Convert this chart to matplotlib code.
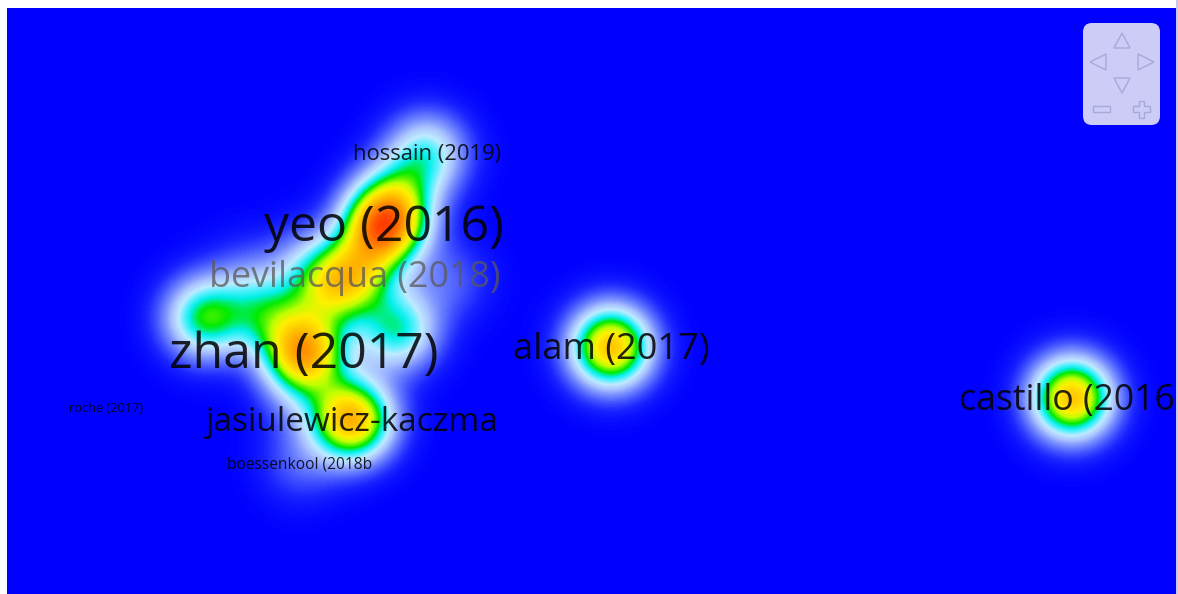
import numpy as np
import matplotlib
matplotlib.use('Agg')
import matplotlib.pyplot as plt
from matplotlib.colors import LinearSegmentedColormap
from matplotlib.patches import FancyBboxPatch, Polygon, Rectangle

# labelled documents: map position (screen units) and density weight
labels = ["hossain (2019)", "yeo (2016)", "bevilacqua (2018)", "zhan (2017)",
          "jasiulewicz-kaczma", "roche (2017)", "boessenkool (2018b",
          "alam (2017)", "castillo (2016)"]
item_x = [427, 384, 355, 304, 352, 106, 300, 611, 1072]
item_y = [153, 225, 275, 352, 420, 408, 463, 347, 398]
item_w = [0.29, 0.76, 0.38, 0.66, 0.66, 0.0, 0.09, 0.64, 0.64]

# documents whose labels are hidden (overlap), still counted in the density
hidden_x = [328, 265, 398, 305, 400, 205, 450, 300, 245]
hidden_y = [288, 312, 330, 262, 192, 318, 280, 395, 275]
hidden_w = [0.30, 0.26, 0.35, 0.10, 0.20, 0.40, 0.09, 0.08, 0.07]

font_sizes = [15.8, 36, 25.8, 36, 24, 9.2, 11.2, 26, 25.7]
label_alpha = [0.85, 0.85, 0.75, 0.85, 0.85, 0.85, 0.85, 0.85, 0.85]

W, H = 1178, 594
fig = plt.figure(figsize=(W / 100, H / 100), dpi=100)
fig.patch.set_facecolor('white')
x0, y0, x1, y1 = 7, 8, 1176, 594
ax = fig.add_axes([x0 / W, 1 - y1 / H, (x1 - x0) / W, (y1 - y0) / H])
ax.set_xlim(x0, x1)
ax.set_ylim(y1, y0)
ax.axis('off')

# kernel density
gx = np.arange(x0, x1) + 0.5
gy = np.arange(y0, y1) + 0.5
XX, YY = np.meshgrid(gx, gy)
sigma = 28.0
dens = np.zeros_like(XX)
for px, py, w in zip(item_x + hidden_x, item_y + hidden_y, item_w + hidden_w):
    dens += w * np.exp(-((XX - px) ** 2 + (YY - py) ** 2) / (2 * sigma ** 2))

stops = [(0.00, (0, 0, 255)), (0.04, (22, 32, 255)), (0.11, (90, 110, 255)),
         (0.20, (170, 195, 255)), (0.26, (190, 235, 255)), (0.31, (90, 240, 255)),
         (0.36, (0, 240, 230)), (0.42, (0, 235, 0)), (0.50, (190, 255, 0)),
         (0.56, (255, 240, 0)), (0.72, (255, 160, 0)), (0.88, (255, 70, 0)),
         (1.00, (255, 0, 0))]
cmap = LinearSegmentedColormap.from_list(
    'density', [(p, tuple(c / 255 for c in rgb)) for p, rgb in stops])
ax.imshow(dens, cmap=cmap, vmin=0, vmax=1.0, extent=(x0, x1, y1, y0),
          interpolation='bilinear', aspect='auto', zorder=0)

for lab, px, py, fs, a in zip(labels, item_x, item_y, font_sizes, label_alpha):
    col = (0.35, 0.35, 0.35) if a < 0.8 else 'black'
    ax.text(px, py + 0.1 * fs, lab, fontsize=fs, family='Open Sans', color=col,
            alpha=a, ha='center', va='center', clip_on=True, zorder=3)

# navigation widget (top right)
nav = FancyBboxPatch((1083, 23), 77, 102, boxstyle='round,pad=0,rounding_size=9',
                     facecolor=(0.80, 0.80, 0.97), edgecolor='none', zorder=5)
ax.add_patch(nav)
ec = (0.66, 0.66, 0.86)
tris = [[(1122, 33), (1114, 48), (1130, 48)],
        [(1090, 62), (1106, 54), (1106, 70)],
        [(1154, 62), (1138, 54), (1138, 70)],
        [(1122, 93), (1114, 78), (1130, 78)]]
for t in tris:
    ax.add_patch(Polygon(t, closed=True, fill=False, edgecolor=ec, lw=1.0, zorder=6))
ax.add_patch(Rectangle((1093, 106), 17, 6, fill=False, edgecolor=ec, lw=1.0, zorder=6))
plus = [(1139, 101), (1144, 101), (1144, 106), (1150, 106), (1150, 112), (1144, 112),
        (1144, 118), (1139, 118), (1139, 112), (1133, 112), (1133, 106), (1139, 106)]
ax.add_patch(Polygon(plus, closed=True, fill=False, edgecolor=ec, lw=1.0, zorder=6))

# thin scrollbar strip on the right edge
fig.patches.append(Rectangle((1176 / W, 0), 2 / W, 1, transform=fig.transFigure,
                             facecolor=(0.78, 0.78, 0.95), edgecolor='none'))

fig.savefig('out.png', dpi=100)
